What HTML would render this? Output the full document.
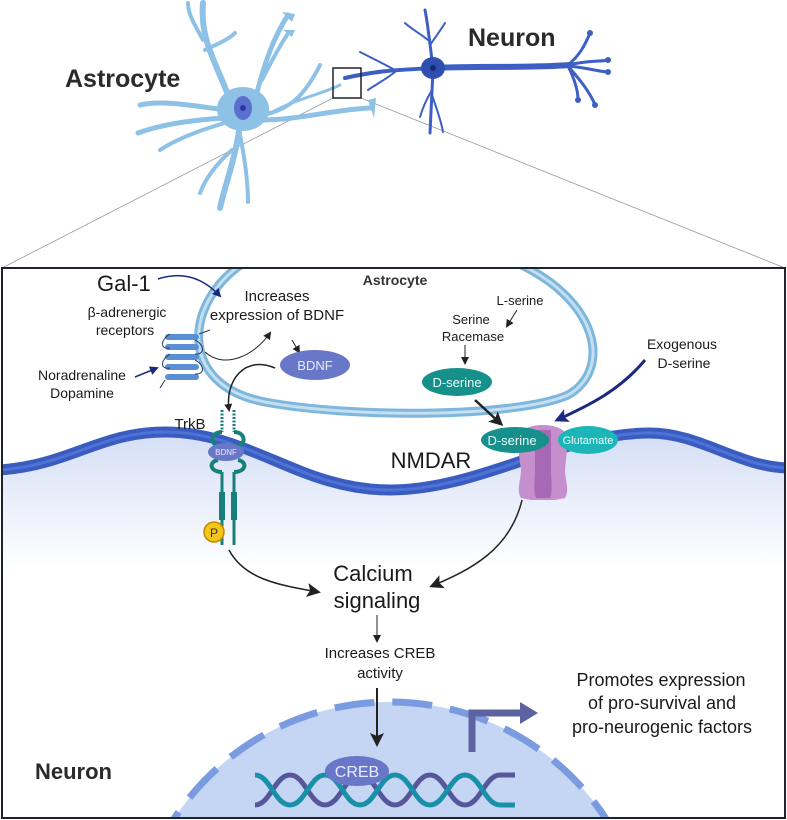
<!DOCTYPE html>
<html><head><meta charset="utf-8"><style>
html,body{margin:0;padding:0;background:#fff;overflow:hidden;width:787px;height:820px;}
svg{display:block;font-family:"Liberation Sans",sans-serif;}
</style></head><body>
<svg width="787" height="820" viewBox="0 0 787 820" xmlns="http://www.w3.org/2000/svg">
<defs>
<marker id="ab" markerWidth="8" markerHeight="8" refX="6" refY="4" orient="auto" markerUnits="userSpaceOnUse"><path d="M0,0 L8,4 L0,8 Z" fill="#222"/></marker>
<marker id="abL" markerWidth="14" markerHeight="14" refX="11" refY="7" orient="auto" markerUnits="userSpaceOnUse"><path d="M0,0 L14,7 L0,14 L3,7 Z" fill="#222"/></marker>
<marker id="an" markerWidth="14" markerHeight="14" refX="11" refY="7" orient="auto" markerUnits="userSpaceOnUse"><path d="M0,0 L14,7 L0,14 L3,7 Z" fill="#1b2a80"/></marker>
<marker id="ans" markerWidth="9" markerHeight="9" refX="7" refY="4.5" orient="auto" markerUnits="userSpaceOnUse"><path d="M0,0 L9,4.5 L0,9 Z" fill="#1b2a80"/></marker>
<linearGradient id="cyto" gradientUnits="userSpaceOnUse" x1="0" y1="440" x2="0" y2="570"><stop offset="0" stop-color="#d6e0f6"/><stop offset="1" stop-color="#ffffff"/></linearGradient>
<clipPath id="boxc"><rect x="2" y="268" width="783" height="550"/></clipPath>
</defs>

<line x1="333" y1="98" x2="2" y2="268" stroke="#999" stroke-width="0.8"/>
<line x1="361" y1="98" x2="785" y2="268" stroke="#999" stroke-width="0.8"/>

<g stroke="#8ec1e6" fill="none" stroke-linecap="round">
<path d="M230,100 C215,60 200,40 203,3" stroke-width="6"/>
<path d="M203,40 C195,25 188,15 188,3" stroke-width="4"/>
<path d="M205,50 C215,45 228,40 235,33" stroke-width="4"/>
<path d="M255,100 C265,60 275,35 288,15" stroke-width="5"/>
<path d="M262,80 C272,60 280,45 289,32" stroke-width="4"/>
<path d="M262,115 C290,110 305,95 320,65" stroke-width="4"/>
<path d="M260,120 C300,120 330,110 370,108" stroke-width="5"/>
<path d="M262,118 C290,100 320,95 340,85" stroke-width="3"/>
<path d="M225,110 C190,105 160,100 140,105" stroke-width="5"/>
<path d="M225,118 C190,120 160,125 138,133" stroke-width="5"/>
<path d="M228,122 C200,130 175,140 160,150" stroke-width="4"/>
<path d="M240,125 C235,160 225,185 220,208" stroke-width="6"/>
<path d="M240,135 C245,160 248,185 248,202" stroke-width="4"/>
<path d="M232,150 C215,165 205,180 200,193" stroke-width="4"/>
</g>
<path d="M282,12 L295,14 L292,22 Z M283,30 L295,30 L292,37 Z M368,100 L376,98 L374,118 Z" fill="#8ec1e6"/>
<ellipse cx="243" cy="109" rx="26" ry="22" fill="#8ec1e6"/>
<ellipse cx="243" cy="108" rx="9" ry="12" fill="#5b6fcf"/>
<circle cx="243" cy="108" r="3" fill="#2a3a9a"/>

<g stroke="#3d5fc4" fill="none" stroke-linecap="round">
<path d="M433,68 C480,66 530,68 570,65" stroke-width="6"/>
<path d="M568,65 C580,55 585,45 590,33" stroke-width="3"/>
<path d="M568,65 C590,60 600,62 608,60" stroke-width="3"/>
<path d="M568,66 C590,68 600,72 608,72" stroke-width="3"/>
<path d="M568,66 C580,80 590,92 595,105" stroke-width="3"/>
<path d="M568,66 C575,80 578,90 578,100" stroke-width="3"/>
<path d="M433,68 C430,45 428,25 425,10" stroke-width="3"/>
<path d="M430,45 C437,35 442,28 445,23" stroke-width="2"/>
<path d="M428,40 C418,32 410,28 405,23" stroke-width="2"/>
<path d="M433,70 C432,95 431,115 430,133" stroke-width="3"/>
<path d="M432,95 C437,110 441,120 443,132" stroke-width="2"/>
<path d="M432,90 C426,100 422,110 420,117" stroke-width="2"/>
<path d="M433,68 C400,70 380,70 345,78" stroke-width="4"/>
<path d="M395,70 C380,62 370,57 360,52" stroke-width="2"/>
<path d="M395,72 C385,80 375,85 368,90" stroke-width="2"/>
</g>
<g fill="#3d5fc4"><circle cx="590" cy="33" r="3"/><circle cx="608" cy="60" r="3"/><circle cx="608" cy="72" r="3"/><circle cx="595" cy="105" r="3"/><circle cx="578" cy="100" r="3"/></g>
<ellipse cx="433" cy="68" rx="12" ry="11" fill="#2e4fb0"/>
<circle cx="433" cy="68" r="3" fill="#152a70"/>
<rect x="333" y="68" width="28" height="30" fill="none" stroke="#222" stroke-width="1.5"/>
<text x="65" y="87" font-size="25" font-weight="bold" fill="#2a2a2a">Astrocyte</text>
<text x="468" y="46" font-size="25" font-weight="bold" fill="#2a2a2a">Neuron</text>

<g clip-path="url(#boxc)">
<path d="M0,470 C70,465 100,432 165,432 C250,432 300,490 390,490 C480,490 560,433 650,433 C700,433 740,468 790,468 L790,820 L0,820 Z" fill="url(#cyto)"/>
<path d="M245,262 C185,300 175,385 265,402 C350,418 515,418 568,395 C612,370 600,300 515,262" fill="none" stroke="#7fb6dc" stroke-width="9"/>
<path d="M245,262 C185,300 175,385 265,402 C350,418 515,418 568,395 C612,370 600,300 515,262" fill="none" stroke="#c3e0f3" stroke-width="3"/>
<path d="M0,470 C70,465 100,432 165,432 C250,432 300,490 390,490 C480,490 560,433 650,433 C700,433 740,468 790,468" fill="none" stroke="#3a5cc0" stroke-width="11"/>
<path d="M0,470 C70,465 100,432 165,432 C250,432 300,490 390,490 C480,490 560,433 650,433 C700,433 740,468 790,468" fill="none" stroke="#4e72d6" stroke-width="3"/>
<circle cx="390" cy="960" r="258" fill="#c5d6f5" stroke="#7b9be0" stroke-width="7" stroke-dasharray="40 18"/>
</g>
<rect x="2" y="268" width="783" height="550" fill="none" stroke="#1d2430" stroke-width="2"/>

<g fill="#5b8fd4">
<rect x="165" y="334" width="34" height="6" rx="3"/><rect x="165" y="344" width="34" height="6" rx="3"/>
<rect x="165" y="354" width="34" height="6" rx="3"/><rect x="165" y="364" width="34" height="6" rx="3"/>
<rect x="165" y="374" width="34" height="6" rx="3"/>
</g>
<path d="M170,334 C160,340 160,350 170,348 M195,340 C205,345 205,355 195,354 M170,354 C160,360 160,370 170,368 M195,360 C205,365 205,375 195,374 M199,334 L210,330 M165,380 L160,388" fill="none" stroke="#2a3a70" stroke-width="1"/>

<g fill="#1a1a1a">
<text x="97" y="291" font-size="22">Gal-1</text>
<text x="395" y="285" font-size="14" font-weight="bold" text-anchor="middle" fill="#333">Astrocyte</text>
<text x="277" y="301" font-size="15" text-anchor="middle">Increases</text>
<text x="277" y="320" font-size="15" text-anchor="middle">expression of BDNF</text>
<text x="127" y="317" font-size="14" text-anchor="middle">β-adrenergic</text>
<text x="125" y="335" font-size="14" text-anchor="middle">receptors</text>
<text x="82" y="380" font-size="14" text-anchor="middle">Noradrenaline</text>
<text x="82" y="398" font-size="14" text-anchor="middle">Dopamine</text>
<text x="520" y="305" font-size="13" text-anchor="middle">L-serine</text>
<text x="471" y="324" font-size="13" text-anchor="middle">Serine</text>
<text x="473" y="341" font-size="13" text-anchor="middle">Racemase</text>
<text x="682" y="349" font-size="14" text-anchor="middle">Exogenous</text>
<text x="684" y="368" font-size="14" text-anchor="middle">D-serine</text>
<text x="190" y="429" font-size="15" text-anchor="middle">TrkB</text>
<text x="431" y="468" font-size="22" text-anchor="middle">NMDAR</text>
<text x="373" y="581" font-size="22" text-anchor="middle">Calcium</text>
<text x="377" y="608" font-size="22" text-anchor="middle">signaling</text>
<text x="380" y="658" font-size="15" text-anchor="middle">Increases CREB</text>
<text x="380" y="678" font-size="15" text-anchor="middle">activity</text>
<text x="661" y="686" font-size="18" text-anchor="middle">Promotes expression</text>
<text x="662" y="709" font-size="18" text-anchor="middle">of pro-survival and</text>
<text x="662" y="733" font-size="18" text-anchor="middle">pro-neurogenic factors</text>
<text x="35" y="779" font-size="22" font-weight="bold" fill="#2a2a2a">Neuron</text>
</g>

<path d="M158,279 C185,270 205,280 220,296" fill="none" stroke="#1b2a80" stroke-width="1.5" marker-end="url(#ans)"/>
<path d="M135,377 L157,368" stroke="#1b2a80" stroke-width="1.5" marker-end="url(#ans)"/>
<path d="M205,352 C225,370 255,355 270,333" fill="none" stroke="#222" stroke-width="1" marker-end="url(#ab)"/>
<path d="M292,340 L299,352" stroke="#222" stroke-width="1" marker-end="url(#ab)"/>
<path d="M275,368 C245,355 225,380 229,410" fill="none" stroke="#222" stroke-width="1.5" marker-end="url(#ab)"/>
<path d="M517,310 L507,326" stroke="#222" stroke-width="1" marker-end="url(#ab)"/>
<path d="M465,345 L465,363" stroke="#222" stroke-width="1" marker-end="url(#ab)"/>
<path d="M645,360 C620,390 590,405 557,420" fill="none" stroke="#1b2a80" stroke-width="3" marker-end="url(#an)"/>
<path d="M475,400 L501,424" stroke="#222" stroke-width="2.5" marker-end="url(#abL)"/>
<path d="M229,550 C245,580 280,585 318,592" fill="none" stroke="#222" stroke-width="1.5" marker-end="url(#abL)"/>
<path d="M522,500 C510,550 470,570 432,586" fill="none" stroke="#222" stroke-width="1.5" marker-end="url(#abL)"/>
<path d="M377,615 L377,641" stroke="#222" stroke-width="1" marker-end="url(#ab)"/>
<path d="M377,688 L377,744" stroke="#222" stroke-width="2" marker-end="url(#abL)"/>

<ellipse cx="315" cy="365" rx="35" ry="15" fill="#6877c8"/>
<text x="315" y="370" font-size="13" fill="#e8ecff" text-anchor="middle">BDNF</text>
<ellipse cx="457" cy="382" rx="35" ry="14" fill="#16908a"/>
<text x="457" y="387" font-size="13" fill="#e8fffd" text-anchor="middle">D-serine</text>

<g stroke="#17807a" fill="none">
<line x1="222" y1="410" x2="222" y2="432" stroke-width="3" stroke-dasharray="2 1.5"/>
<line x1="234" y1="410" x2="234" y2="432" stroke-width="3" stroke-dasharray="2 1.5"/>
<path d="M222,432 C210,432 210,445 218,445 M234,432 C246,432 246,445 238,445 M218,445 L238,445" stroke-width="4"/>
<path d="M218,460 C208,462 210,472 222,472 M238,460 C248,462 246,472 234,472" stroke-width="4"/>
<line x1="222" y1="472" x2="222" y2="545" stroke-width="3"/>
<line x1="234" y1="472" x2="234" y2="545" stroke-width="3"/>
<line x1="222" y1="492" x2="222" y2="520" stroke-width="6"/>
<line x1="234" y1="492" x2="234" y2="520" stroke-width="6"/>
</g>
<ellipse cx="226" cy="452" rx="18" ry="9" fill="#6877c8"/>
<text x="226" y="455" font-size="8" fill="#e8ecff" text-anchor="middle">BDNF</text>
<circle cx="214" cy="532" r="10" fill="#f5c518" stroke="#c08a00" stroke-width="1.5"/>
<text x="214" y="537" font-size="12" fill="#333" text-anchor="middle">P</text>

<path d="M517,440 C517,430 530,425 543,425 C556,425 568,430 568,440 L565,470 C565,480 570,490 565,498 L555,500 L531,500 L521,498 C516,490 521,480 521,470 Z" fill="#c48fcc"/>
<path d="M535,430 L551,430 L551,470 C551,480 553,490 550,498 L536,498 C533,490 535,480 535,470 Z" fill="#a868b4"/>
<ellipse cx="515" cy="440" rx="34" ry="13" fill="#16908a"/>
<text x="512" y="445" font-size="13" fill="#e8fffd" text-anchor="middle">D-serine</text>
<ellipse cx="588" cy="440" rx="30" ry="14" fill="#1cb6b8"/>
<text x="588" y="444" font-size="11" fill="#e8fffd" text-anchor="middle">Glutamate</text>

<path d="M472,752 L472,713 L522,713" fill="none" stroke="#5d63a0" stroke-width="7"/>
<path d="M520,702 L538,713 L520,724 Z" fill="#5d63a0"/>

<g fill="none" stroke-width="5">
<path d="M255,805 C270,805 275,775 290,775 C305,775 310,805 325,805 C340,805 345,775 360,775 C375,775 380,805 395,805 C410,805 415,775 430,775 C445,775 450,805 465,805 C480,805 485,775 500,775 L515,775" stroke="#55579a"/>
<path d="M255,775 C270,775 275,805 290,805 C305,805 310,775 325,775 C340,775 345,805 360,805 C375,805 380,775 395,775 C410,775 415,805 430,805 C445,805 450,775 465,775 C480,775 485,805 500,805 L515,805" stroke="#1a8fa8"/>
</g>
<ellipse cx="357" cy="771" rx="32" ry="15" fill="#6877c8"/>
<text x="357" y="777" font-size="16" fill="#e8ecff" text-anchor="middle">CREB</text>
</svg>
</body></html>
